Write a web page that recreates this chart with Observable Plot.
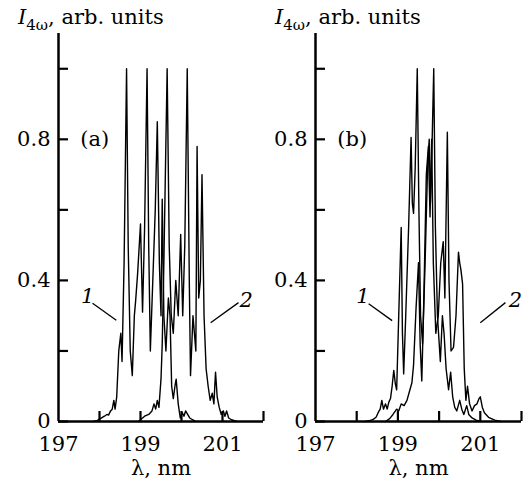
<!DOCTYPE html>
<html><head><meta charset="utf-8">
<script src="https://cdn.jsdelivr.net/npm/d3@7"></script>
<script src="https://cdn.jsdelivr.net/npm/@observablehq/plot@0.6"></script>
<style>
body{margin:0;background:#fff;}
#wrap{position:relative;width:526px;height:482px;overflow:hidden;}
.panel{position:absolute;top:0;}
.ttl{position:absolute;top:7px;font-family:"DejaVu Serif",serif;font-size:21px;line-height:21px;color:#000;white-space:nowrap;}
.ttl sub{font-size:15px;vertical-align:-6px;line-height:0;}
</style></head>
<body>
<div id="wrap">
  <div id="pa" class="panel" style="left:0"></div>
  <div id="pb" class="panel" style="left:263px"></div>
  <div class="ttl" style="left:18px"><i>I</i><sub>4ω</sub>, arb. units</div>
  <div class="ttl" style="left:275px"><i>I</i><sub>4ω</sub>, arb. units</div>
</div>
<script>
// ---- data ----
const xTickValues = [198, 199, 200, 201, 202];
const xTickLabels = [197, 199, 201];
const yTickValues = [0, 0.2, 0.4, 0.6, 0.8, 1.0];
const yTickLabels = [0, 0.4, 0.8];
const xTitle = "λ, nm";
const panelNames = ["(a)", "(b)"];
const curveNames = ["1", "2"];

const a1 = [[197.85,0],[197.95,0.003],[198.05,0.01],[198.12,0.015],[198.18,0.02],[198.22,0.018],[198.27,0.03],[198.31,0.035],[198.35,0.06],[198.38,0.035],[198.42,0.07],[198.47,0.2],[198.52,0.25],[198.55,0.17],[198.6,0.45],[198.66,1.0],[198.7,0.5],[198.75,0.2],[198.8,0.13],[198.85,0.3],[198.88,0.34],[198.93,0.42],[199.0,0.56],[199.05,0.31],[199.1,0.55],[199.16,1.0],[199.2,0.5],[199.24,0.2],[199.3,0.4],[199.36,0.6],[199.41,0.85],[199.46,0.45],[199.5,0.3],[199.53,0.63],[199.57,0.3],[199.62,0.2],[199.68,0.35],[199.72,0.3],[199.76,0.1],[199.8,0.065],[199.84,0.1],[199.87,0.12],[199.92,0.05],[199.97,0.01],[200.02,0.025],[200.06,0.015],[200.1,0.03],[200.15,0.02],[200.2,0.01],[200.27,0.005],[200.35,0]];
const a2 = [[198.95,0],[199.0,0.005],[199.1,0.015],[199.2,0.02],[199.28,0.03],[199.33,0.05],[199.37,0.035],[199.41,0.06],[199.45,0.04],[199.5,0.12],[199.53,0.22],[199.57,0.45],[199.65,1.0],[199.7,0.5],[199.75,0.3],[199.8,0.25],[199.86,0.4],[199.92,0.3],[199.98,0.53],[200.03,0.3],[200.08,0.5],[200.14,1.0],[200.19,0.4],[200.22,0.13],[200.28,0.3],[200.35,0.2],[200.38,0.78],[200.42,0.35],[200.46,0.4],[200.5,0.7],[200.55,0.3],[200.6,0.15],[200.65,0.1],[200.7,0.06],[200.75,0.08],[200.79,0.05],[200.83,0.14],[200.87,0.07],[200.92,0.04],[200.97,0.02],[201.02,0.03],[201.06,0.015],[201.1,0.03],[201.15,0.01],[201.22,0.005],[201.35,0]];
const b1 = [[198.2,0],[198.3,0.002],[198.4,0.006],[198.47,0.012],[198.52,0.025],[198.57,0.035],[198.61,0.06],[198.65,0.035],[198.7,0.05],[198.74,0.035],[198.78,0.055],[198.82,0.065],[198.86,0.1],[198.9,0.145],[198.94,0.105],[198.97,0.09],[199.02,0.3],[199.08,0.55],[199.11,0.25],[199.14,0.135],[199.19,0.3],[199.26,0.55],[199.32,0.805],[199.35,0.62],[199.38,0.59],[199.42,0.72],[199.47,1.0],[199.51,0.6],[199.55,0.3],[199.6,0.22],[199.66,0.45],[199.72,0.72],[199.76,0.8],[199.79,0.62],[199.83,0.79],[199.87,1.0],[199.91,0.55],[199.96,0.3],[200.03,0.17],[200.08,0.3],[200.12,0.25],[200.17,0.15],[200.23,0.09],[200.28,0.14],[200.33,0.07],[200.38,0.04],[200.43,0.03],[200.5,0.06],[200.55,0.035],[200.6,0.02],[200.67,0.045],[200.72,0.02],[200.8,0.01],[200.9,0.004],[201.0,0]];
const b2 = [[198.7,0],[198.8,0.008],[198.88,0.02],[198.97,0.035],[199.02,0.03],[199.08,0.05],[199.15,0.045],[199.22,0.06],[199.28,0.085],[199.34,0.11],[199.38,0.16],[199.44,0.32],[199.5,0.45],[199.54,0.22],[199.58,0.115],[199.63,0.35],[199.69,0.7],[199.74,0.78],[199.78,0.58],[199.82,0.8],[199.86,0.45],[199.92,0.25],[199.98,0.3],[200.04,0.45],[200.1,0.51],[200.14,0.35],[200.2,0.82],[200.24,0.4],[200.29,0.2],[200.35,0.21],[200.41,0.3],[200.47,0.48],[200.5,0.45],[200.53,0.43],[200.57,0.39],[200.61,0.15],[200.65,0.06],[200.69,0.1],[200.74,0.05],[200.8,0.03],[200.86,0.045],[200.92,0.05],[200.97,0.065],[201.0,0.07],[201.05,0.04],[201.1,0.025],[201.2,0.012],[201.35,0.004],[201.5,0]];

// ---- drawing ----
const FONT = "DejaVu Serif";
function panel(c1, c2, name, cfg) {
  return Plot.plot({
    width: 263, height: 482,
    marginLeft: cfg.ml, marginRight: cfg.mr, marginTop: 33, marginBottom: 61,
    x: {domain: [197, 202]},
    y: {domain: [0, 1.1]},
    style: {fontFamily: FONT, fontSize: "21px", color: "#000", background: "transparent", overflow: "visible"},
    marks: [
      Plot.line(c1, {x: d => d[0], y: d => d[1], stroke: "#000", strokeWidth: 1.4}),
      Plot.line(c2, {x: d => d[0], y: d => d[1], stroke: "#000", strokeWidth: 1.4}),
      Plot.ruleX([197], {stroke: "#000", strokeWidth: 2.5}),
      Plot.ruleY([0], {stroke: "#000", strokeWidth: 2.5}),
      Plot.axisY(yTickValues, {tickSize: -10, tickFormat: () => "", strokeWidth: 2.2, label: null}),
      Plot.axisY(yTickLabels, {tickSize: 0, tickPadding: 8, tickFormat: d => String(d), label: null, fontSize: 21, fontFamily: FONT}),
      Plot.axisX(xTickValues, {tickSize: -10, tickFormat: () => "", strokeWidth: 2.2, label: null}),
      Plot.axisX(xTickLabels, {tickSize: 0, tickPadding: 15, tickFormat: d => String(d), label: null, fontSize: 21, fontFamily: FONT}),
      Plot.text([xTitle], {frameAnchor: "bottom", dy: 53, fontSize: 21, fontFamily: FONT, text: d => d}),
      Plot.text([name], {x: 197.53, y: 0.8, textAnchor: "start", fontSize: 21, fontFamily: FONT, text: d => d}),
      Plot.text([curveNames[0]], {x: cfg.l1[0], y: cfg.l1[1], fontSize: 21, fontFamily: FONT, fontStyle: "italic", text: d => d}),
      Plot.text([curveNames[1]], {x: cfg.l2[0], y: cfg.l2[1], fontSize: 21, fontFamily: FONT, fontStyle: "italic", text: d => d}),
      Plot.link([cfg.k1], {x1: d => d[0], y1: d => d[1], x2: d => d[2], y2: d => d[3], stroke: "#000", strokeWidth: 1.3}),
      Plot.link([cfg.k2], {x1: d => d[0], y1: d => d[1], x2: d => d[2], y2: d => d[3], stroke: "#000", strokeWidth: 1.3})
    ]
  });
}
document.getElementById("pa").append(panel(a1, a2, panelNames[0], {
  ml: 58, mr: 0,
  l1: [197.71, 0.355], l2: [201.58, 0.345],
  k1: [197.83, 0.335, 198.41, 0.287], k2: [201.39, 0.337, 200.71, 0.28]
}));
document.getElementById("pb").append(panel(b1, b2, panelNames[1], {
  ml: 52, mr: 5,
  l1: [198.15, 0.355], l2: [201.85, 0.345],
  k1: [198.29, 0.334, 198.86, 0.286], k2: [201.61, 0.337, 201.0, 0.28]
}));
</script>
</body></html>
